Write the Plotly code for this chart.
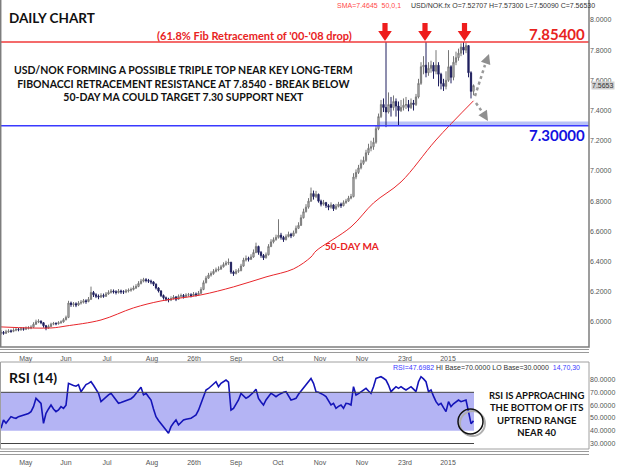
import plotly.graph_objects as go

# ---------------- data ----------------
first_open = 5.925
closes = [
    5.930, 5.925, 5.935, 5.940, 5.938, 5.945, 5.950, 5.948, 5.955, 5.952,
    5.958, 5.960, 5.965, 5.985, 6.000, 6.005, 5.995, 5.975, 5.960, 5.970,
    5.985, 5.990, 5.988, 5.995, 6.000, 6.015, 6.030, 6.125, 6.115, 6.120,
    6.112, 6.125, 6.130, 6.140, 6.135, 6.150, 6.195, 6.180, 6.170, 6.165,
    6.175, 6.170, 6.185, 6.195, 6.205, 6.200, 6.195, 6.205, 6.200, 6.198,
    6.205, 6.210, 6.215, 6.225, 6.235, 6.255, 6.270, 6.280, 6.275, 6.270,
    6.265, 6.250, 6.225, 6.205, 6.175, 6.160, 6.150, 6.145, 6.155, 6.165,
    6.150, 6.170, 6.175, 6.168, 6.178, 6.180, 6.175, 6.185, 6.180, 6.190,
    6.215, 6.260, 6.290, 6.310, 6.320, 6.335, 6.345, 6.350, 6.365, 6.380,
    6.390, 6.395, 6.330, 6.320, 6.335, 6.340, 6.370, 6.410, 6.420, 6.415,
    6.430, 6.460, 6.500, 6.460, 6.440, 6.425, 6.445, 6.500, 6.530, 6.545,
    6.560, 6.575, 6.560, 6.545, 6.565, 6.580, 6.570, 6.590, 6.620, 6.640,
    6.690, 6.730, 6.760, 6.800, 6.850, 6.830, 6.845, 6.800, 6.780, 6.790,
    6.770, 6.760, 6.775, 6.750, 6.765, 6.780, 6.770, 6.790, 6.800, 6.820,
    6.830, 6.960, 6.990, 7.020, 7.050, 7.070, 7.120, 7.150, 7.160, 7.190,
    7.280, 7.360, 7.440, 7.420, 7.390, 7.440, 7.420, 7.460, 7.430, 7.400,
    7.420, 7.435, 7.440, 7.420, 7.450, 7.440, 7.490, 7.580, 7.690, 7.700,
    7.650, 7.680, 7.700, 7.660, 7.700, 7.640, 7.580, 7.560, 7.600, 7.690,
    7.620, 7.720, 7.750, 7.780, 7.820, 7.800, 7.830, 7.650, 7.527, 7.5653,
]
highs = [
    5.945, 5.940, 5.948, 5.952, 5.950, 5.958, 5.962, 5.960, 5.966, 5.964,
    5.970, 5.972, 5.978, 5.998, 6.015, 6.018, 6.010, 5.998, 5.980, 5.982,
    5.995, 6.000, 5.998, 6.005, 6.010, 6.025, 6.042, 6.140, 6.135, 6.132,
    6.130, 6.138, 6.145, 6.152, 6.150, 6.165, 6.234, 6.205, 6.190, 6.182,
    6.190, 6.188, 6.198, 6.210, 6.218, 6.215, 6.210, 6.218, 6.214, 6.210,
    6.218, 6.222, 6.228, 6.240, 6.250, 6.270, 6.285, 6.292, 6.290, 6.285,
    6.280, 6.270, 6.255, 6.230, 6.210, 6.182, 6.168, 6.160, 6.170, 6.178,
    6.172, 6.182, 6.188, 6.185, 6.190, 6.192, 6.190, 6.198, 6.195, 6.205,
    6.230, 6.275, 6.305, 6.325, 6.335, 6.350, 6.360, 6.368, 6.378, 6.395,
    6.405, 6.420, 6.398, 6.340, 6.350, 6.355, 6.385, 6.425, 6.440, 6.432,
    6.448, 6.480, 6.525, 6.505, 6.470, 6.450, 6.460, 6.515, 6.548, 6.560,
    6.578, 6.680, 6.590, 6.570, 6.580, 6.598, 6.590, 6.605, 6.638, 6.660,
    6.710, 6.750, 6.780, 6.820, 6.890, 6.870, 6.868, 6.850, 6.810, 6.808,
    6.795, 6.780, 6.792, 6.780, 6.782, 6.795, 6.790, 6.805, 6.815, 6.835,
    6.848, 6.985, 7.010, 7.040, 7.075, 7.095, 7.140, 7.180, 7.200, 7.220,
    7.300, 7.380, 7.470, 7.480, 7.854, 7.520, 7.490, 7.500, 7.480, 7.460,
    7.470, 7.480, 7.490, 7.470, 7.480, 7.470, 7.510, 7.610, 7.720, 7.760,
    7.854, 7.720, 7.730, 7.720, 7.800, 7.720, 7.650, 7.610, 7.660, 7.800,
    7.700, 7.760, 7.790, 7.810, 7.845, 7.854, 7.850, 7.830, 7.660, 7.573,
]
lows = [
    5.915, 5.915, 5.920, 5.928, 5.928, 5.932, 5.938, 5.938, 5.942, 5.942,
    5.946, 5.950, 5.952, 5.960, 5.980, 5.992, 5.985, 5.962, 5.945, 5.955,
    5.965, 5.978, 5.978, 5.982, 5.988, 5.995, 6.010, 6.025, 6.100, 6.100,
    6.098, 6.105, 6.115, 6.122, 6.120, 6.130, 6.145, 6.165, 6.158, 6.150,
    6.158, 6.160, 6.165, 6.180, 6.188, 6.188, 6.182, 6.188, 6.186, 6.185,
    6.190, 6.195, 6.200, 6.208, 6.218, 6.230, 6.248, 6.262, 6.262, 6.258,
    6.250, 6.238, 6.215, 6.195, 6.165, 6.148, 6.138, 6.130, 6.138, 6.148,
    6.138, 6.148, 6.160, 6.155, 6.162, 6.168, 6.162, 6.170, 6.168, 6.175,
    6.185, 6.210, 6.255, 6.285, 6.300, 6.312, 6.328, 6.335, 6.345, 6.360,
    6.372, 6.378, 6.318, 6.305, 6.315, 6.325, 6.335, 6.365, 6.400, 6.400,
    6.410, 6.425, 6.455, 6.445, 6.425, 6.410, 6.420, 6.440, 6.495, 6.520,
    6.538, 6.552, 6.545, 6.530, 6.540, 6.560, 6.555, 6.565, 6.585, 6.615,
    6.635, 6.685, 6.725, 6.750, 6.795, 6.810, 6.820, 6.790, 6.765, 6.770,
    6.755, 6.740, 6.750, 6.735, 6.742, 6.758, 6.755, 6.765, 6.782, 6.795,
    6.812, 6.825, 6.945, 6.980, 7.010, 7.040, 7.060, 7.105, 7.130, 7.140,
    7.180, 7.270, 7.350, 7.390, 7.290, 7.380, 7.360, 7.400, 7.360, 7.300,
    7.390, 7.400, 7.410, 7.395, 7.410, 7.400, 7.430, 7.480, 7.570, 7.640,
    7.620, 7.630, 7.650, 7.610, 7.640, 7.560, 7.540, 7.530, 7.540, 7.590,
    7.580, 7.600, 7.700, 7.730, 7.760, 7.770, 7.780, 7.620, 7.480, 7.5009,
]
rsi = [
    41.9, 48.4, 45.8, 48.5, 51.0, 50.2, 49.7, 51.0, 51.5, 52.3,
    53.0, 53.5, 54.9, 58.8, 65.3, 63.5, 61.4, 45.8, 53.6, 57.0,
    60.1, 57.0, 54.9, 56.2, 58.8, 57.5, 60.0, 77.0, 76.0, 75.4,
    74.8, 76.0, 70.5, 73.5, 76.0, 77.0, 78.3, 75.5, 72.7, 69.2,
    62.7, 64.5, 66.6, 68.0, 69.2, 66.5, 64.0, 61.4, 62.0, 62.7,
    63.5, 64.0, 65.0, 66.6, 69.2, 71.5, 73.9, 68.0, 69.2, 66.5,
    64.0, 57.0, 51.0, 48.0, 45.8, 43.0, 40.6, 38.0, 43.2, 46.0,
    48.4, 44.5, 46.5, 48.4, 49.0, 49.3, 49.7, 51.0, 52.3, 56.0,
    61.4, 67.0, 71.8, 73.0, 74.4, 76.5, 78.3, 74.4, 77.0, 78.0,
    79.6, 78.0, 56.2, 57.5, 61.0, 64.0, 69.2, 67.0, 65.3, 66.5,
    68.0, 70.0, 72.4, 65.3, 62.5, 60.1, 64.0, 67.0, 69.2, 68.0,
    66.6, 68.0, 69.2, 70.0, 70.5, 67.0, 64.0, 64.5, 65.3, 68.5,
    71.0, 73.5, 75.7, 78.5, 80.9, 77.0, 70.5, 70.0, 69.2, 68.0,
    66.6, 63.0, 60.1, 61.4, 57.5, 59.0, 60.1, 57.5, 61.4, 61.0,
    60.1, 74.4, 67.9, 69.0, 70.5, 72.0, 73.1, 71.0, 69.2, 74.4,
    80.9, 81.5, 82.2, 81.0, 79.6, 75.7, 70.5, 72.5, 74.4, 73.1,
    74.4, 73.0, 71.8, 73.1, 74.4, 72.5, 70.5, 78.3, 82.2, 80.5,
    78.3, 70.5, 71.8, 67.0, 62.7, 60.1, 61.4, 58.0, 54.9, 62.7,
    58.8, 61.0, 62.7, 64.0, 62.7, 63.5, 64.0, 54.9, 45.5, 47.7,
]
ma_idx = [0, 20, 26, 40, 53, 64, 80, 93, 106, 117, 124, 126, 140, 149, 160, 174, 189]
ma_vals = [5.967, 5.960, 5.973, 6.013, 6.093, 6.139, 6.179, 6.232, 6.298, 6.351,
           6.430, 6.470, 6.629, 6.788, 6.927, 7.205, 7.4645]
tick_pos = [9.9, 26, 42.4, 60.4, 77.2, 94, 110.8, 127.6, 144.4, 161.6, 178.8]
tick_text = ["May", "Jun", "Jul", "Aug", "26th", "Sep", "Oct", "Nov", "Nov", "23rd", "2015"]
price_ticks = [6.0, 6.2, 6.4, 6.6, 6.8, 7.0, 7.2, 7.4, 7.6, 7.8, 8.0]
rsi_ticks = [30, 40, 50, 60, 70, 80]
fib_level = 7.854
support_level = 7.30
support_top = 7.327
rsi_hi, rsi_lo, rsi_floor = 70, 40, 30
last_close = closes[-1]

# ---------------- derived ----------------
N = len(closes)
xs = list(range(N))
opens = [first_open] + closes[:-1]
highs = [max(h, o, c) for h, o, c in zip(highs, opens, closes)]
lows = [min(l, o, c) for l, o, c in zip(lows, opens, closes)]

W, H = 619, 468
PW = 589  # plot-area width in px


def PX(x):
    return x / PW


def PY(y):
    return 1 - y / H


price_bottom_px, rsi_top_px, rsi_bottom_px = 347, 362, 449
x_range = [-0.4, 235.2]
x_end = N - 1 + 0.2

fig = go.Figure()
fig.add_trace(go.Candlestick(
    x=xs, open=opens, high=highs, low=lows, close=closes,
    increasing=dict(line=dict(color="#777777", width=1), fillcolor="#d0d0d0"),
    decreasing=dict(line=dict(color="#1f1f5e", width=1), fillcolor="#1f1f5e"),
    whiskerwidth=0, showlegend=False, hoverinfo="skip", xaxis="x", yaxis="y"))
fig.add_trace(go.Scatter(x=ma_idx, y=ma_vals, mode="lines",
                         line=dict(color="#e8262b", width=1, shape="spline"),
                         showlegend=False, hoverinfo="skip", xaxis="x", yaxis="y"))
fig.add_trace(go.Scatter(x=xs, y=rsi, mode="lines",
                         line=dict(color="#1414b8", width=1.6),
                         showlegend=False, hoverinfo="skip", xaxis="x2", yaxis="y2"))

tickfont = dict(family="Liberation Sans, Arial", size=7, color="#555555")
fig.update_layout(
    width=W, height=H, margin=dict(l=0, r=W - PW, t=0, b=0),
    paper_bgcolor="white", plot_bgcolor="white", showlegend=False,
    xaxis=dict(domain=[0, 1], range=x_range, anchor="y", tickvals=tick_pos, ticktext=tick_text,
               showgrid=False, zeroline=False, showline=False, ticks="", tickfont=tickfont,
               ticklabelstandoff=6, rangeslider=dict(visible=False)),
    yaxis=dict(domain=[PY(price_bottom_px), 1], range=[5.834, 8.132], side="right", anchor="x",
               tickvals=price_ticks, ticktext=[f"{v:.4f}" for v in price_ticks],
               showgrid=False, zeroline=False, showline=False, ticks="", tickfont=tickfont),
    xaxis2=dict(domain=[0, 1], range=x_range, anchor="y2", tickvals=tick_pos, ticktext=tick_text,
                showgrid=False, zeroline=False, showline=False, ticks="", tickfont=tickfont,
                ticklabelstandoff=8),
    yaxis2=dict(domain=[PY(rsi_bottom_px), PY(rsi_top_px)], range=[25.7, 93.7], side="right",
                anchor="x2", tickvals=rsi_ticks, ticktext=[f"{v:.4f}" for v in rsi_ticks],
                showgrid=False, zeroline=False, showline=False, ticks="", tickfont=tickfont),
)

shapes = []
# RSI band & level lines
shapes.append(dict(type="rect", xref="x2", yref="y2", x0=x_range[0], x1=x_end, y0=rsi_lo, y1=rsi_hi,
                   fillcolor="#b4b4f4", line=dict(width=0), layer="below"))
for lv in (rsi_hi, rsi_floor):
    shapes.append(dict(type="line", xref="x2", yref="y2", x0=x_range[0], x1=x_end, y0=lv, y1=lv,
                       line=dict(color="#444444", width=1)))
# support band & lines
shapes.append(dict(type="rect", xref="paper", yref="y", x0=PX(377), x1=1, y0=support_level, y1=support_top,
                   fillcolor="#b9c2f6", line=dict(width=0), layer="below"))
shapes.append(dict(type="line", xref="paper", yref="y", x0=0, x1=1, y0=support_level, y1=support_level,
                   line=dict(color="#3a3aff", width=1.5)))
shapes.append(dict(type="line", xref="paper", yref="y", x0=0, x1=1, y0=fib_level, y1=fib_level,
                   line=dict(color="#f03a3a", width=1.5)))
# frames
shapes.append(dict(type="rect", xref="paper", yref="paper", x0=PX(0.7), x1=1, y0=PY(price_bottom_px), y1=1.02,
                   line=dict(color="#7d7d7d", width=1.5)))
for yy in (349.5, 352.5, 451.5, 454.5):
    shapes.append(dict(type="line", xref="paper", yref="paper", x0=0, x1=1, y0=PY(yy), y1=PY(yy),
                       line=dict(color="#9a9a9a", width=1)))
shapes.append(dict(type="rect", xref="paper", yref="paper", x0=PX(0.5), x1=1, y0=PY(rsi_bottom_px),
                   y1=PY(rsi_top_px), line=dict(color="#a0a0a0", width=1)))


def path(pts):
    return "M " + " L ".join(f"{PX(x):.5f},{PY(y):.5f}" for x, y in pts) + " Z"


# red down arrows
for cx in (385, 425, 464.5):
    top, tip = 23, 41
    neck = 31
    pts = [(cx - 2.6, top), (cx + 2.6, top), (cx + 2.6, neck), (cx + 6.8, neck), (cx, tip),
           (cx - 6.8, neck), (cx - 2.6, neck)]
    shapes.append(dict(type="path", xref="paper", yref="paper", path=path(pts),
                       fillcolor="#ee1d1d", line=dict(width=0)))


# grey dotted arrows
def grey_arrow(x0, y0, x1, y1, tx, ty):
    shapes.append(dict(type="line", xref="paper", yref="paper", x0=PX(x0), y0=PY(y0), x1=PX(x1), y1=PY(y1),
                       line=dict(color="#9a9a9a", width=2.5, dash="dot")))
    dx, dy = tx - x1, ty - y1
    ln = (dx * dx + dy * dy) ** 0.5
    ux, uy = dx / ln, dy / ln
    bx, by = tx - ux * 10, ty - uy * 10
    px_, py_ = -uy, ux
    pts = [(tx, ty), (bx + px_ * 5, by + py_ * 5), (bx - px_ * 5, by - py_ * 5)]
    shapes.append(dict(type="path", xref="paper", yref="paper", path=path(pts),
                       fillcolor="#8f8f8f", line=dict(width=0)))


grey_arrow(475, 96, 485, 65, 489, 54)
grey_arrow(476, 103, 483, 113, 488, 121)

# circle around RSI end
shapes.append(dict(type="circle", xref="paper", yref="paper", x0=PX(460), x1=PX(485), y0=PY(436), y1=PY(411),
                   line=dict(color="#b0b0b0", width=2)))
shapes.append(dict(type="circle", xref="paper", yref="paper", x0=PX(458), x1=PX(483), y0=PY(434), y1=PY(409),
                   line=dict(color="#111111", width=1.5)))
fig.update_layout(shapes=shapes)

BF = "Lato, Liberation Sans, Arial"
ann = []


def text(x, y, s, size, color="#111111", xanchor="left", family=BF, align="left", bg=None):
    d = dict(xref="paper", yref="paper", x=PX(x), y=PY(y), text=s, showarrow=False,
             xanchor=xanchor, yanchor="middle", align=align,
             font=dict(family=family, size=size, color=color))
    if bg:
        d["bgcolor"] = bg
    ann.append(d)


text(7, 18, "<b>DAILY CHART</b>", 13.5)
text(335, 6, "SMA=7.4645  50,0,1", 7, color="#ff4a4a", family="Liberation Sans, Arial")
text(409, 6, "USD/NOK.fx O=7.52707 H=7.57300 L=7.50090 C=7.56530", 7, color="#333333",
     family="Liberation Sans, Arial")
text(354, 36, "<b>(61.8% Fib Retracement of '00-'08 drop)</b>", 11, color="#e8231e", xanchor="right")
text(587, 34, f"<b>{fib_level:.5f}</b>", 15, color="#e8231e", xanchor="right")
text(587, 135, f"<b>{support_level:.5f}</b>", 15, color="#1212e0", xanchor="right")
text(183, 83.5, "<b>USD/NOK FORMING A POSSIBLE TRIPLE TOP NEAR KEY LONG-TERM<br>"
     "FIBONACCI RETRACEMENT RESISTANCE AT 7.8540 - BREAK BELOW<br>"
     "50-DAY MA COULD TARGET 7.30 SUPPORT NEXT</b>", 10.5, xanchor="center", align="center")
text(323, 246, "<b>50-DAY MA</b>", 10, color="#e8231e")
text(7, 377, "<b>RSI (14)</b>", 14)
text(582, 367, "<span style='color:#3c3cff'>RSI=47.6982</span> HI Base=70.0000 LO Base=30.0000  "
     "<span style='color:#3c3cff'>14,70,30</span>", 7, color="#333333", xanchor="right",
     family="Liberation Sans, Arial")
text(536, 414, "<b>RSI IS APPROACHING<br>THE BOTTOM OF ITS<br>UPTREND RANGE<br>NEAR 40</b>", 9.5,
     xanchor="center", align="center")
ann.append(dict(xref="paper", yref="y", x=PX(591), y=last_close, text=f"{last_close:.4f}", showarrow=False,
                xanchor="left", yanchor="middle", bgcolor="#cfcfcf", borderpad=0,
                font=dict(family="Liberation Sans, Arial", size=7, color="#333333")))
fig.update_layout(annotations=ann)

fig.write_html("out.html")
